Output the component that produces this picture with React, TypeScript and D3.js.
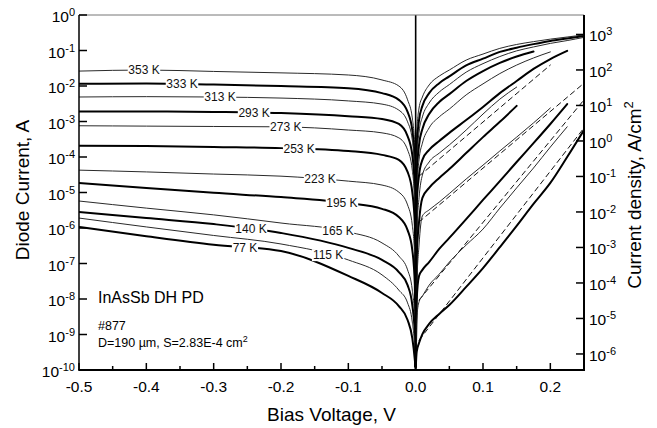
import React from "react";
import * as d3 from "d3";

// Temperatures of the measured I-V traces, hottest first
const temperatures = [353, 333, 313, 293, 273, 253, 223, 195, 165, 140, 115, 77];
const heavyTrace = [false, true, false, true, false, true, false, true, false, true, false, true];

// Reverse branch: bias (V) and log10 of |I| (A) for each temperature
const reverseBias = [-0.5, -0.4, -0.3, -0.2, -0.1, -0.05, -0.025, -0.012, -0.005, -0.0012, -0.0002];
const reverseLogCurrent = [
  [-1.58, -1.55, -1.59, -1.63, -1.69, -1.83, -2.0, -2.39, -2.9, -3.8, -9.9],
  [-1.94, -1.93, -1.96, -2.0, -2.06, -2.2, -2.39, -2.73, -3.24, -4.23, -9.9],
  [-2.31, -2.3, -2.31, -2.34, -2.42, -2.51, -2.68, -3.01, -3.52, -4.51, -9.9],
  [-2.72, -2.72, -2.73, -2.76, -2.85, -2.93, -3.07, -3.41, -3.94, -4.93, -9.9],
  [-3.12, -3.13, -3.14, -3.15, -3.24, -3.32, -3.46, -3.8, -4.37, -5.35, -9.9],
  [-3.68, -3.69, -3.72, -3.75, -3.83, -3.94, -4.08, -4.42, -4.99, -5.92, -9.9],
  [-4.37, -4.42, -4.48, -4.54, -4.68, -4.79, -4.99, -5.35, -5.92, -6.9, -9.9],
  [-4.73, -4.87, -5.01, -5.13, -5.3, -5.46, -5.69, -6.06, -6.62, -7.61, -9.9],
  [-5.24, -5.44, -5.63, -5.86, -6.11, -6.42, -6.79, -7.18, -7.75, -8.59, -9.9],
  [-5.55, -5.72, -5.89, -6.14, -6.56, -6.9, -7.24, -7.61, -8.17, -9.01, -9.9],
  [-5.72, -5.97, -6.21, -6.45, -6.9, -7.32, -7.75, -8.11, -8.65, -9.44, -9.9],
  [-5.97, -6.23, -6.47, -6.65, -7.35, -7.83, -8.2, -8.59, -9.1, -9.72, -9.95],
];

// Forward branch: bias (V) and log10 I (A); null where the sweep stopped
const forwardBias = [0.0002, 0.0015, 0.005, 0.01, 0.02, 0.035, 0.05, 0.075, 0.1, 0.125, 0.15, 0.175, 0.2, 0.225, 0.25];
const forwardLogCurrent: (number | null)[][] = [
  [-9.9, -3.38, -2.62, -2.31, -1.97, -1.72, -1.55, -1.27, -1.1, -0.94, -0.83, -0.75, -0.68, -0.62, -0.56],
  [-9.9, -3.8, -2.96, -2.56, -2.2, -1.92, -1.73, -1.42, -1.23, -1.04, -0.92, -0.82, -0.73, -0.66, -0.59],
  [-9.9, -4.14, -3.3, -2.87, -2.48, -2.17, -1.96, -1.61, -1.37, -1.17, -1.01, -0.9, -0.8, -0.72, -0.63],
  [-9.9, -4.59, -3.66, -3.21, -2.79, -2.45, -2.23, -1.86, -1.58, -1.35, -1.17, -1.03, null, null, null],
  [-9.9, -5.07, -4.08, -3.61, -3.18, -2.87, -2.65, -2.25, -1.94, -1.65, -1.41, -1.21, -1.04, null, null],
  [-9.9, -5.35, -4.51, -4.08, -3.8, -3.55, -3.32, -2.96, -2.59, -2.2, -1.86, -1.52, -1.24, -1.01, null],
  [-9.9, -6.2, -5.15, -4.51, -4.14, -3.89, -3.66, -3.24, -2.79, -2.37, -2.03, null, null, null, null],
  [-9.9, -6.85, -5.83, -5.15, -4.87, -4.59, -4.34, -3.89, -3.44, -3.01, -2.56, null, null, null, null],
  [-9.9, -7.75, -6.48, -5.66, -5.49, -5.27, -5.03, -4.62, -4.23, -3.83, -3.44, -3.04, -2.62, null, null],
  [-9.9, -8.03, -7.35, -7.18, -6.96, -6.59, -6.28, -5.75, -5.21, -4.68, -4.14, -3.61, -3.07, -2.51, null],
  [-9.9, -8.59, -8.08, -7.92, -7.61, -7.3, -6.96, -6.48, -6.03, -5.44, -4.87, -4.31, -3.72, -3.15, null],
  [-9.9, -9.49, -9.24, -8.99, -8.7, -8.42, -8.17, -7.66, -7.13, -6.54, -5.94, -5.32, -4.73, -4.0, -3.24],
];

// Where each temperature tag sits along its reverse trace (V)
const labelBias = [-0.4035, -0.347, -0.2906, -0.24, -0.193, -0.173, -0.142, -0.1095, -0.1154, -0.2446, -0.13, -0.2535];

// Straight exponential fits (dashed) for the cold traces
const fitTemperatures = [223, 165, 115, 77];
const fitStartBias = [0.005, 0.005, 0.005, 0.005];
const fitEndBias = [0.2, 0.25, 0.25, 0.25];
const fitStartLog = [-4.54, -5.83, -8.03, -9.16];
const fitEndLog = [-1.41, -1.92, -2.39, -3.18];

// Axis ticks
const xMajorTicks = [-0.5, -0.4, -0.3, -0.2, -0.1, 0.0, 0.1, 0.2];
const xMinorTicks = [-0.45, -0.35, -0.25, -0.15, -0.05, 0.05, 0.15];
const currentExponents = [0, -1, -2, -3, -4, -5, -6, -7, -8, -9, -10];
const densityExponents = [3, 2, 1, 0, -1, -2, -3, -4, -5, -6];

const deviceArea = 2.83e-4; // cm^2

const FONT = "Arial, 'Liberation Sans', Helvetica, sans-serif";

export default function App() {
  const W = 657;
  const H = 428;
  const left = 79;
  const right = 584;
  const top = 15;
  const bottom = 370;

  const x = d3.scaleLinear().domain([-0.5, 0.25]).range([left, right]);
  const y = d3.scaleLog().domain([1e-10, 1]).range([bottom, top]);
  const yJ = d3.scaleLog().domain([1e-10 / deviceArea, 1 / deviceArea]).range([bottom, top]);

  const line = d3
    .line<[number, number]>()
    .x((d) => x(d[0]))
    .y((d) => y(Math.pow(10, d[1])))
    .curve(d3.curveMonotoneX);

  const traces = temperatures.map((t, i) => {
    const rev: [number, number][] = reverseBias.map((v, j) => [v, reverseLogCurrent[i][j]]);
    const fwd: [number, number][] = [];
    forwardBias.forEach((v, j) => {
      const c = forwardLogCurrent[i][j];
      if (c !== null) fwd.push([v, c]);
    });
    return { t, heavy: heavyTrace[i], rev: line(rev) || "", fwd: line(fwd) || "" };
  });

  const fits = fitTemperatures.map((t, i) =>
    line([
      [fitStartBias[i], fitStartLog[i]],
      [fitEndBias[i], fitEndLog[i]],
    ]) || ""
  );

  const labels = temperatures.map((t, i) => {
    const interp = d3.scaleLinear().domain(reverseBias).range(reverseLogCurrent[i]);
    const v = labelBias[i];
    const text = `${t} K`;
    const w = text.length * 6.3 + 1;
    return { text, cx: x(v), cy: y(Math.pow(10, interp(v))), w };
  });

  return (
    <svg
      width={W}
      height={H}
      viewBox={`0 0 ${W} ${H}`}
      style={{ position: "absolute", left: 0, top: 0, display: "block", background: "#fff" }}
      fontFamily={FONT}
    >
      <defs>
        <clipPath id="plot-clip">
          <rect x={left} y={top} width={right - left} height={bottom - top} />
        </clipPath>
      </defs>
      <rect x={0} y={0} width={W} height={H} fill="#fff" />

      {/* traces */}
      <g clipPath="url(#plot-clip)" fill="none" strokeLinejoin="round" strokeLinecap="round">
        {fits.map((d, i) => (
          <path key={`fit-${i}`} d={d} stroke="#111" strokeWidth={1} strokeDasharray="5,4" />
        ))}
        {traces.map((tr) => (
          <g key={tr.t} stroke={tr.heavy ? "#000" : "#2a2a2a"} strokeWidth={tr.heavy ? 2 : 1}>
            <path d={tr.rev} />
            <path d={tr.fwd} />
          </g>
        ))}
        <line x1={x(0)} x2={x(0)} y1={top} y2={bottom} stroke="#000" strokeWidth={1.6} />
      </g>

      {/* temperature tags */}
      {labels.map((l) => (
        <g key={l.text}>
          <rect x={l.cx - l.w / 2} y={l.cy - 6} width={l.w} height={12} fill="#fff" />
          <text x={l.cx} y={l.cy + 4.2} fontSize={12} textAnchor="middle" fill="#111">
            {l.text}
          </text>
        </g>
      ))}

      {/* frame */}
      <line x1={left} x2={right} y1={top} y2={top} stroke="#777" strokeWidth={1} />
      <line x1={left} x2={left} y1={top} y2={bottom} stroke="#000" strokeWidth={1.5} />
      <line x1={right} x2={right} y1={top} y2={bottom + 1} stroke="#000" strokeWidth={2} />
      <line x1={left - 0.75} x2={right + 1} y1={bottom} y2={bottom} stroke="#000" strokeWidth={2} />

      {/* bottom axis */}
      {xMajorTicks.map((v) => (
        <g key={`xm-${v}`}>
          <line x1={x(v)} x2={x(v)} y1={bottom} y2={bottom - 7} stroke="#000" strokeWidth={1.5} />
          <text x={x(v)} y={392} fontSize={15.5} textAnchor="middle" fill="#000">
            {v.toFixed(1)}
          </text>
        </g>
      ))}
      {xMinorTicks.map((v) => (
        <line key={`xn-${v}`} x1={x(v)} x2={x(v)} y1={bottom} y2={bottom - 4} stroke="#000" strokeWidth={1.5} />
      ))}
      <text x={(left + right) / 2 + 0} y={421} fontSize={19} textAnchor="middle" fill="#000">
        Bias Voltage, V
      </text>

      {/* left axis: diode current */}
      {currentExponents.map((e) => {
        const yy = y(Math.pow(10, e));
        return (
          <g key={`yl-${e}`}>
            <line x1={left} x2={left + 8} y1={yy} y2={yy} stroke="#000" strokeWidth={1.5} />
            <text x={left - 4} y={yy + 7} textAnchor="end" fill="#000">
              <tspan fontSize={15.5}>10</tspan>
              <tspan fontSize={11} dy={-6}>
                {e}
              </tspan>
            </text>
          </g>
        );
      })}
      <text
        transform={`translate(29, 190) rotate(-90)`}
        fontSize={19}
        textAnchor="middle"
        fill="#000"
      >
        Diode Current, A
      </text>

      {/* right axis: current density */}
      {densityExponents.map((e) => {
        const yy = yJ(Math.pow(10, e));
        return (
          <g key={`yr-${e}`}>
            <line x1={right - 8} x2={right} y1={yy} y2={yy} stroke="#000" strokeWidth={1.5} />
            <text x={right + 5} y={yy + 7} textAnchor="start" fill="#000">
              <tspan fontSize={15.5}>10</tspan>
              <tspan fontSize={11} dy={-6}>
                {e}
              </tspan>
            </text>
          </g>
        );
      })}
      <text transform={`translate(641, 195) rotate(-90)`} fontSize={19} textAnchor="middle" fill="#000">
        Current density, A/cm
        <tspan fontSize={13} dy={-8}>
          2
        </tspan>
      </text>

      {/* device notes */}
      <text x={98} y={303} fontSize={16} fill="#000">
        InAsSb DH PD
      </text>
      <text x={98} y={330} fontSize={12.5} fill="#000">
        #877
      </text>
      <text x={98} y={347} fontSize={12.5} fill="#000">
        D=190 µm, S=2.83E-4 cm
        <tspan fontSize={9} dy={-5}>
          2
        </tspan>
      </text>
    </svg>
  );
}
